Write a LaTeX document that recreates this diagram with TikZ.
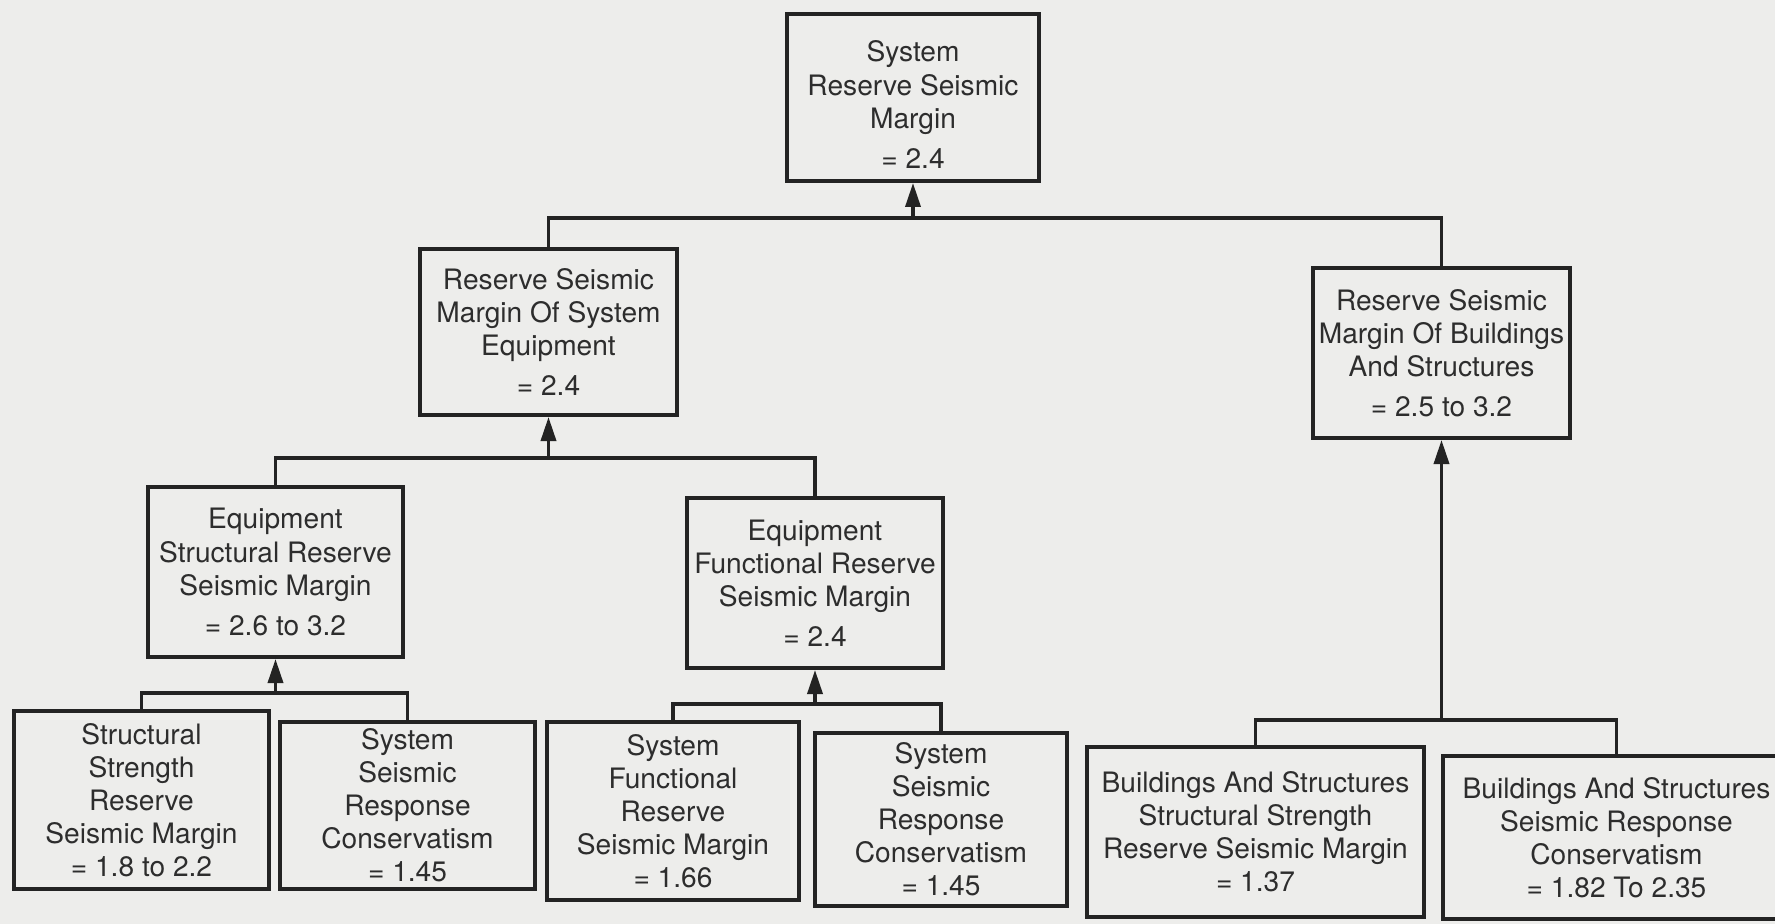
\documentclass[tikz,border=0pt]{standalone}
\usepackage{fontspec}
\setmainfont{TeX Gyre Heros}
\usetikzlibrary{arrows.meta}
\definecolor{bgc}{RGB}{237,237,235}
\definecolor{ink}{RGB}{35,35,35}
\definecolor{txt}{RGB}{45,45,45}
\begin{document}
\begin{tikzpicture}[x=0.01cm,y=-0.01cm,
  box/.style={draw=ink, line width=1.1pt, fill=bgc, rectangle, align=center, inner sep=0pt,
    text=txt, font=\fontsize{8}{9.4}\selectfont},
  wire/.style={draw=ink, line width=1pt},
  arr/.style={wire, -{Triangle[length=0.24cm,width=0.15cm]}}]
\useasboundingbox (0,0) rectangle (1775,924);
\fill[bgc] (0,0) rectangle (1775,924);
% level 0
\node[box, minimum width=2.52cm, minimum height=1.67cm] (top) at (913,97.5)
  {\rule{0pt}{10pt}System\\Reserve Seismic\\Margin\\[2pt]= 2.4};
% level 1
\node[box, minimum width=2.57cm, minimum height=1.66cm] (rsmse) at (548.5,332)
  {Reserve Seismic\\Margin Of System\\Equipment\\[2pt]= 2.4};
\node[box, minimum width=2.57cm, minimum height=1.70cm] (rsmbs) at (1441.5,353)
  {Reserve Seismic\\Margin Of Buildings\\And Structures\\[2pt]= 2.5 to 3.2};
% level 2
\node[box, minimum width=2.55cm, minimum height=1.70cm] (esr) at (275.5,572)
  {Equipment\\Structural Reserve\\Seismic Margin\\[2pt]= 2.6 to 3.2};
\node[box, minimum width=2.56cm, minimum height=1.70cm] (efr) at (815,583)
  {Equipment\\Functional Reserve\\Seismic Margin\\[2pt]= 2.4};
% level 3
\node[box, minimum width=2.55cm, minimum height=1.78cm] (ssr) at (141.5,800)
  {Structural\\Strength\\Reserve\\Seismic Margin\\= 1.8 to 2.2};
\node[box, minimum width=2.55cm, minimum height=1.67cm] (ssrc1) at (407.5,805.5)
  {System\\Seismic\\Response\\Conservatism\\= 1.45};
\node[box, minimum width=2.52cm, minimum height=1.78cm] (sfr) at (673,811)
  {System\\Functional\\Reserve\\Seismic Margin\\= 1.66};
\node[box, minimum width=2.52cm, minimum height=1.73cm] (ssrc2) at (941,819.5)
  {System\\Seismic\\Response\\Conservatism\\= 1.45};
\node[box, minimum width=3.37cm, minimum height=1.70cm] (bsss) at (1255.5,832)
  {Buildings And Structures\\Structural Strength\\Reserve Seismic Margin\\= 1.37};
\node[box, minimum width=3.47cm, minimum height=1.63cm] (bssr) at (1616.5,837.5)
  {Buildings And Structures\\Seismic Response\\Conservatism\\= 1.82 To 2.35};
% junctions
\coordinate (j1) at (913,218);
\coordinate (j2) at (548.5,458);
\coordinate (j3) at (275.5,693);
\coordinate (j4) at (815,704);
\coordinate (j5) at (1441.5,720);
% connectors
\draw[wire] (rsmse.north) |- (j1) -| (rsmbs.north);
\draw[arr] (j1) -- (top.south);
\draw[wire] (esr.north) |- (j2) -| (efr.north);
\draw[arr] (j2) -- (rsmse.south);
\draw[wire] (ssr.north) |- (j3) -| (ssrc1.north);
\draw[arr] (j3) -- (esr.south);
\draw[wire] (sfr.north) |- (j4) -| (ssrc2.north);
\draw[arr] (j4) -- (efr.south);
\draw[wire] (bsss.north) |- (j5) -| (bssr.north);
\draw[arr] (j5) -- (rsmbs.south);
\end{tikzpicture}
\end{document}
